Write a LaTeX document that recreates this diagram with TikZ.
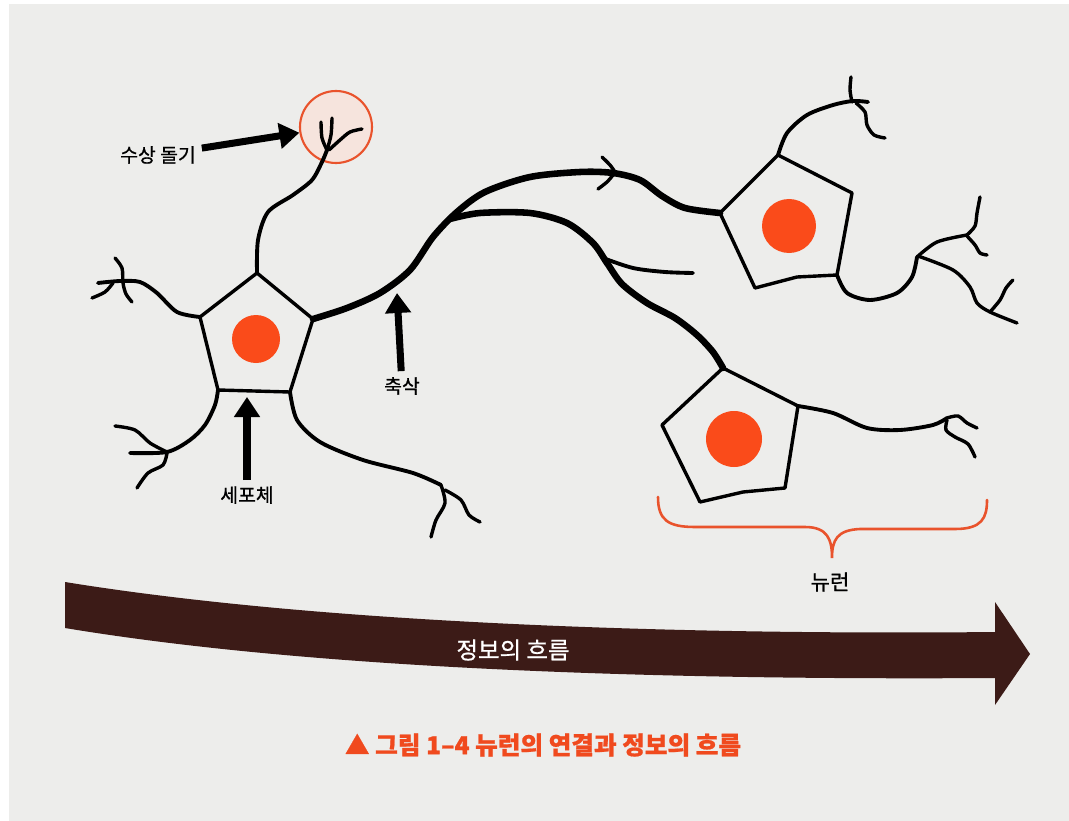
\documentclass[tikz,border=0pt]{standalone}
\usepackage{fontspec}
\newfontfamily\kr{Noto Sans CJK KR}[FakeBold=0.8]
\usetikzlibrary{arrows.meta}
\definecolor{pagegrey}{HTML}{EDEDEB}
\definecolor{nucorange}{HTML}{FA4B1A}
\definecolor{spinered}{HTML}{E9532C}
\definecolor{spinefill}{HTML}{F6E4DD}
\definecolor{flowbrown}{HTML}{3C1B17}
\definecolor{capred}{HTML}{F04A1E}

\begin{document}
\begin{tikzpicture}[x=0.03cm, y=-0.03cm,
    body/.style={line width=2.9pt, line join=round},
    dend/.style={line width=3.3pt, line cap=round},
    twig/.style={line width=2.9pt, line cap=round},
    axon/.style={line width=5.6pt, line cap=round},
    nucleus/.style={circle, fill=nucorange, inner sep=0pt},
    pointer/.style={-{Triangle[length=0.6cm,width=0.75cm]}, line width=6pt},
    lbl/.style={font=\kr\fontsize{16.5pt}{19pt}\selectfont, inner sep=5pt}]
  \useasboundingbox (0,0) rectangle (1069,821);
  \fill[white] (0,0) rectangle (1069,821);
  \fill[pagegrey] (9,4) rectangle (1069,821);

  % first neuron: cell body
  \draw[body] (257,273) coordinate (a1) -- (313,319) coordinate (a2) -- (290,392) coordinate (a3)
    -- (218,390) coordinate (a4) -- (200,317) coordinate (a5) -- cycle;
  \node[nucleus, minimum size=1.44cm] (nuc1) at (256,339) {};
  % dendrite spine
  \node[circle, draw=spinered, fill=spinefill, line width=1.8pt, minimum size=2.16cm] (spine) at (336,127) {};
  \draw[dend] plot[smooth] coordinates {(a1) (258,240) (268,212) (293,195) (312,180) (322,162) (327,150)};
  \draw[twig] plot[smooth] coordinates {(327,150) (322,138) (321,122)};
  \draw[twig] plot[smooth] coordinates {(327,150) (331,135) (332,118)};
  \draw[twig] plot[smooth] coordinates {(329,150) (340,140) (350,132) (362,129)};
  % left dendrites
  \draw[dend] plot[smooth] coordinates {(a5) (177,312) (157,293) (140,282) (120,281) (98,283)};
  \draw[twig] plot[smooth] coordinates {(115,258) (122,268) (123,283) (126,294) (132,302)};
  \draw[twig] plot[smooth] coordinates {(113,283) (105,292) (92,298)};
  \draw[dend] plot[smooth] coordinates {(a4) (215,405) (205,425) (190,440) (167,452) (130,453)};
  \draw[twig] plot[smooth] coordinates {(167,452) (150,443) (135,430) (115,426)};
  \draw[twig] plot[smooth] coordinates {(167,453) (163,465) (148,473) (137,488)};
  \draw[dend] plot[smooth] coordinates {(a3) (297,420) (320,442) (363,460) (413,473) (441,485)};
  \draw[twig] plot[smooth] coordinates {(441,485) (445,503) (436,520) (431,537)};
  \draw[twig] plot[smooth] coordinates {(445,490) (461,500) (469,515) (480,522)};

  % axon and its two branches
  \draw[axon] plot[smooth] coordinates {(a2) (347,308) (380,293) (410,270) (433,237) (457,212)
    (485,192) (530,177) (580,172) (613,173) (640,180) (662,196) (685,208) (720,213)};
  \draw[axon] plot[smooth] coordinates {(450,219) (480,213) (530,213) (567,223) (593,243) (607,263)
    (622,284) (647,303) (675,318) (697,335) (713,352) (723,368)};
  \draw[dend] plot[smooth] coordinates {(603,258) (633,268) (665,272) (693,273)};
  \draw[twig] plot[smooth] coordinates {(602,157) (610,165) (615,172)};
  \draw[twig] plot[smooth] coordinates {(613,175) (607,182) (598,189)};

  % second neuron (upper right)
  \draw[body] (778,155) coordinate (b1) -- (852,193) coordinate (b2) -- (837,275) coordinate (b3)
    -- (797,277) -- (755,288) coordinate (b4) -- (720,213) coordinate (b5) -- cycle;
  \node[nucleus, minimum size=1.62cm] (nuc2) at (789,226) {};
  \draw[dend] plot[smooth] coordinates {(b1) (787,133) (807,115) (833,105) (853,101) (868,102)};
  \draw[twig] plot[smooth] coordinates {(852,102) (850,90) (851,77)};
  \draw[twig] plot[smooth] coordinates {(856,103) (865,112) (867,125) (874,135) (885,138)};
  \draw[dend] plot[smooth] coordinates {(b3) (847,293) (870,300) (897,293) (912,277) (917,257)};
  \draw[twig] plot[smooth] coordinates {(917,257) (937,242) (967,235)};
  \draw[twig] plot[smooth] coordinates {(967,235) (975,226) (977,213) (980,197)};
  \draw[twig] plot[smooth] coordinates {(967,236) (975,245) (980,253) (987,255)};
  \draw[twig] plot[smooth] coordinates {(918,256) (953,270) (970,287) (977,303) (990,312) (1017,323)};
  \draw[twig] plot[smooth] coordinates {(990,312) (1000,300) (1006,288) (1013,280)};

  % third neuron (lower right)
  \draw[body] (723,368) coordinate (c1) -- (798,406) coordinate (c2) -- (785,488)
    -- (743,492) -- (700,502) -- (662,425) -- cycle;
  \node[nucleus, minimum size=1.68cm] (nuc3) at (734,439) {};
  \draw[dend] plot[smooth] coordinates {(c2) (833,413) (867,428) (900,430) (933,425) (947,418)};
  \draw[twig] plot[smooth] coordinates {(947,418) (958,416) (967,423) (977,428)};
  \draw[twig] plot[smooth] coordinates {(947,420) (946,430) (955,437) (968,444) (975,457)};

  % labels with pointers
  \node[lbl] (lblspine) at (158,155) {수상 돌기};
  \draw[pointer] (lblspine) -- (spine);
  \coordinate (axontip) at (397,293);
  \node[lbl] (lblaxon) at (402,386) {축삭};
  \draw[pointer] (lblaxon) -- (axontip);
  \coordinate (somatip) at (247,397);
  \node[lbl] (lblsoma) at (247,495) {세포체};
  \draw[pointer] (lblsoma) -- (somatip);

  % brace under the neuron
  \draw[spinered, line width=2.2pt, line cap=round]
    (658,497) .. controls (658,520) and (668,527) .. (695,527) -- (805,527)
    .. controls (828,527) and (832,540) .. (832,558)
    .. controls (832,540) and (837,530) .. (860,529) -- (955,529)
    .. controls (982,529) and (987,518) .. (987,500);
  \node[lbl, font=\kr\fontsize{18pt}{21pt}\selectfont] (lblneuron) at (830,582) {뉴런};

  % flow of information
  \fill[flowbrown] (65,582) .. controls (330,625) and (700,635) .. (995,632)
    -- (995,602) -- (1030,654) -- (995,705) -- (995,678)
    .. controls (700,680) and (330,672) .. (65,628) -- cycle;
  \node[text=white, font=\kr\fontsize{20pt}{23pt}\selectfont] (flow) at (513,650) {정보의 흐름};

  \node[text=capred, font=\kr\bfseries\fontsize{21pt}{24pt}\selectfont] (caption) at (543,745)
    {▲ 그림 1–4 뉴런의 연결과 정보의 흐름};
\end{tikzpicture}
\end{document}
